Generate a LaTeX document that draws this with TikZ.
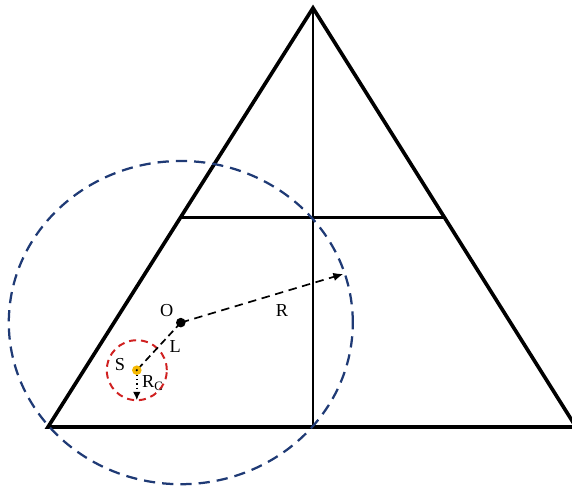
\documentclass[tikz,border=0pt]{standalone}
\usepackage{fontspec}
\setmainfont{Liberation Serif}
\usetikzlibrary{calc,arrows.meta}

\definecolor{navyblue}{RGB}{31,58,117}
\definecolor{ringred}{RGB}{208,32,32}
\definecolor{sunyellow}{RGB}{245,184,0}

\begin{document}
\begin{tikzpicture}[font=\fontsize{13}{15}\selectfont]
  \useasboundingbox (0,0) rectangle (14.3,12.175);

  % Triangle corners
  \coordinate (A) at (1.2, 1.5);
  \coordinate (T) at (7.825, 11.975);
  \coordinate (B) at (14.4, 1.5);
  \coordinate (F) at (7.825, 1.5);
  \coordinate (M1) at ($(A)!0.5!(T)$);
  \coordinate (M2) at ($(B)!0.5!(T)$);

  % Inner lines
  \draw[line width=1.6pt] (T) -- (F);
  \draw[line width=1.6pt] (M1) -- (M2);

  % Triangle
  \draw[line width=2.6pt] (A) -- (T) -- (B) -- cycle;

  % Centres
  \coordinate (O) at (4.52, 4.11);
  \coordinate (S) at (3.42, 2.92);
  \coordinate (P) at (8.58, 5.325);
  \coordinate (Q) at (3.42, 2.17);

  % Large circle around O
  \draw[navyblue, line width=1.6pt, dash pattern=on 8pt off 5pt] (O) ellipse (4.3 and 4.04);

  % Small circle around S
  \draw[ringred, line width=1.4pt, dash pattern=on 5pt off 3.5pt] (S) circle (0.75);

  % Radius R and distance L
  \draw[line width=1.2pt, dash pattern=on 6pt off 4pt, -{Latex[length=7pt,width=6pt]}] (O) -- (P);
  \draw[line width=1.2pt, dash pattern=on 5pt off 3pt] (O) -- (S);

  % Radius R_C
  \draw[line width=1.1pt, dotted, -{Latex[length=6pt,width=5.5pt]}] (S) -- (Q);

  % Points
  \fill[black] (O) circle (0.12);
  \fill[sunyellow] (S) circle (0.12);
  \fill[black] (S) circle (0.03);

  % Labels
  \node (labO) at (4.17, 4.4) {O};
  \node (labR) at (7.05, 4.4) {R};
  \node (labL) at (4.38, 3.5) {L};
  \node (labS) at (3.0, 3.07) {S};
  \node (labRc) at (3.82, 2.6) {R\textsubscript{C}};
\end{tikzpicture}
\end{document}
